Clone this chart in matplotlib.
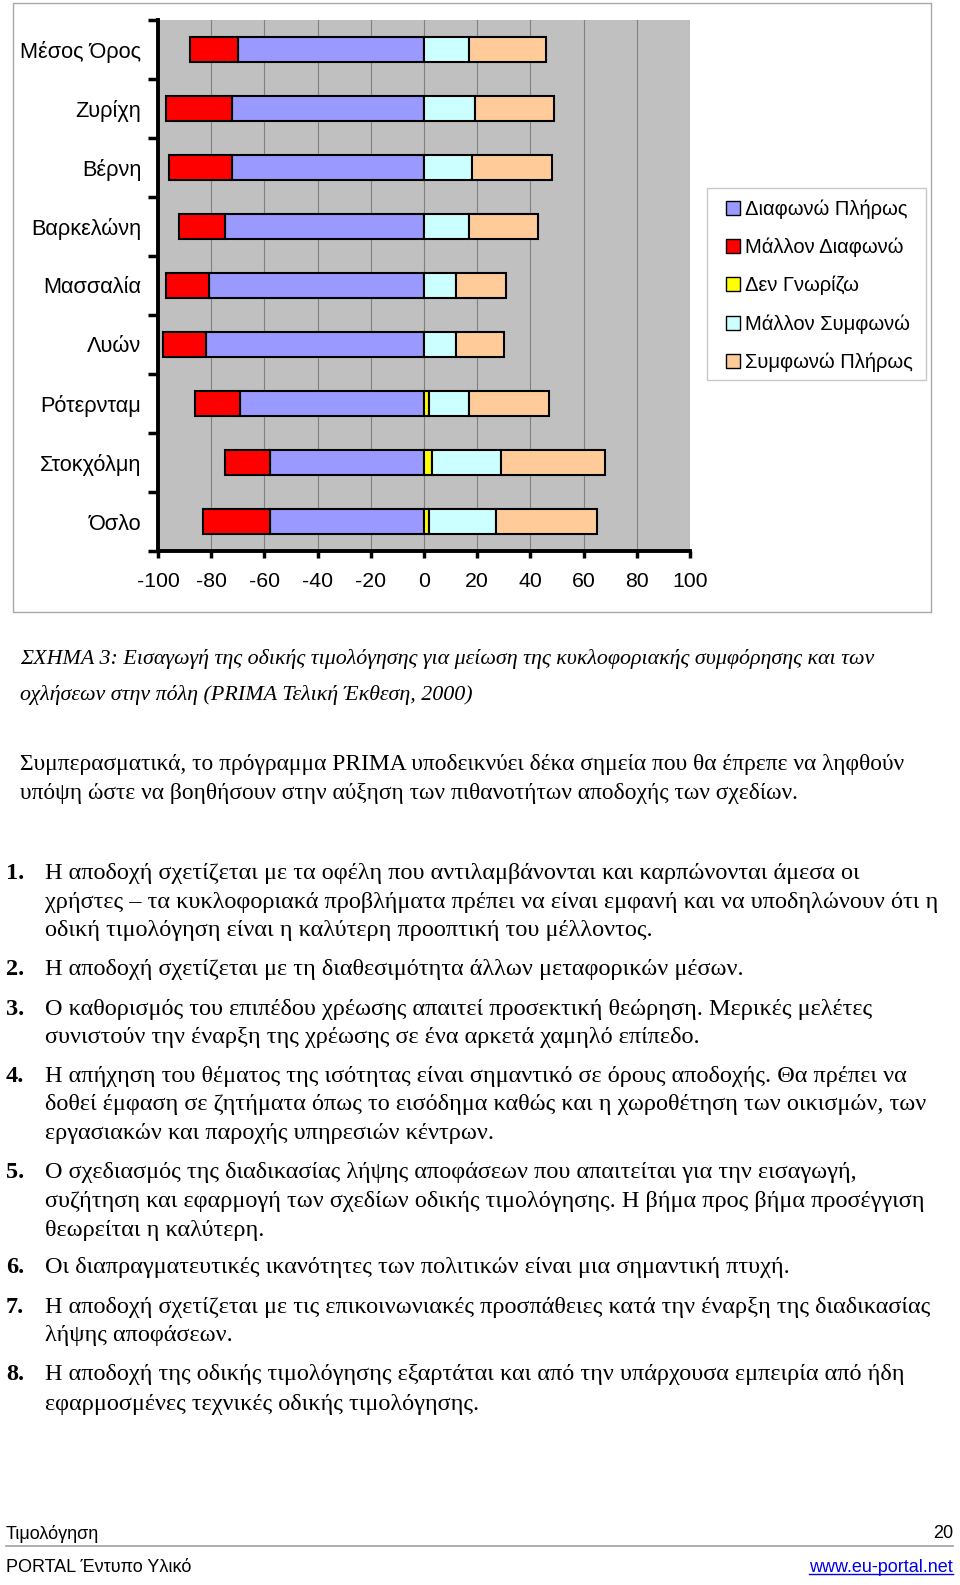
import numpy as np
import matplotlib.pyplot as plt
from matplotlib.patches import Patch, Rectangle
from matplotlib.lines import Line2D

# data (percent)
cities = ["Μέσος Όρος", "Ζυρίχη", "Βέρνη", "Βαρκελώνη", "Μασσαλία",
          "Λυών", "Ρότερνταμ", "Στοκχόλμη", "Όσλο"]
dis_full = np.array([70, 72, 72, 75, 81, 82, 69, 58, 58])
dis_some = np.array([18, 25, 24, 17, 16, 16, 17, 17, 25])
dont_know = np.array([0, 0, 0, 0, 0, 0, 2, 3, 2])
agr_some = np.array([17, 19, 18, 17, 12, 12, 15, 26, 25])
agr_full = np.array([29, 30, 30, 26, 19, 18, 30, 39, 38])

series_names = ["Διαφωνώ Πλήρως", "Μάλλον Διαφωνώ", "Δεν Γνωρίζω",
                "Μάλλον Συμφωνώ", "Συμφωνώ Πλήρως"]
colors = ["#9999FF", "#FF0000", "#FFFF00", "#CCFFFF", "#FFCC99"]
xticks = list(range(-100, 101, 20))

caption = ["ΣΧΗΜΑ 3: Εισαγωγή της οδικής τιμολόγησης για μείωση της κυκλοφοριακής συμφόρησης και των",
           "οχλήσεων στην πόλη (PRIMA Τελική Έκθεση, 2000)"]
intro = ["Συμπερασματικά, το πρόγραμμα PRIMA υποδεικνύει δέκα σημεία που θα έπρεπε να ληφθούν",
         "υπόψη ώστε να βοηθήσουν στην αύξηση των πιθανοτήτων αποδοχής των σχεδίων."]
items = [
    ["Η αποδοχή σχετίζεται με τα οφέλη που αντιλαμβάνονται και καρπώνονται άμεσα οι",
     "χρήστες – τα κυκλοφοριακά προβλήματα πρέπει να είναι εμφανή και να υποδηλώνουν ότι η",
     "οδική τιμολόγηση είναι η καλύτερη προοπτική του μέλλοντος."],
    ["Η αποδοχή σχετίζεται με τη διαθεσιμότητα άλλων μεταφορικών μέσων."],
    ["Ο καθορισμός του επιπέδου χρέωσης απαιτεί προσεκτική θεώρηση. Μερικές μελέτες",
     "συνιστούν την έναρξη της χρέωσης σε ένα αρκετά χαμηλό επίπεδο."],
    ["Η απήχηση του θέματος της ισότητας είναι σημαντικό σε όρους αποδοχής. Θα πρέπει να",
     "δοθεί έμφαση σε ζητήματα όπως το εισόδημα καθώς και η χωροθέτηση των οικισμών, των",
     "εργασιακών και παροχής υπηρεσιών κέντρων."],
    ["Ο σχεδιασμός της διαδικασίας λήψης αποφάσεων που απαιτείται για την εισαγωγή,",
     "συζήτηση και εφαρμογή των σχεδίων οδικής τιμολόγησης. Η βήμα προς βήμα προσέγγιση",
     "θεωρείται η καλύτερη."],
    ["Οι διαπραγματευτικές ικανότητες των πολιτικών είναι μια σημαντική πτυχή."],
    ["Η αποδοχή σχετίζεται με τις επικοινωνιακές προσπάθειες κατά την έναρξη της διαδικασίας",
     "λήψης αποφάσεων."],
    ["Η αποδοχή της οδικής τιμολόγησης εξαρτάται και από την υπάρχουσα εμπειρία από ήδη",
     "εφαρμοσμένες τεχνικές οδικής τιμολόγησης."],
]
item_y = [[873, 902, 930], [969], [1009, 1037], [1076, 1104, 1133],
          [1172, 1201, 1230], [1267], [1307, 1335], [1374, 1404]]

W, H = 960, 1585
fig = plt.figure(figsize=(W / 100, H / 100), dpi=100)


def fx(px):
    return px / W


def fy(py):
    return 1 - py / H


sans = "Liberation Sans"
serif = "Liberation Serif"

# outer chart frame
fig.add_artist(Rectangle((fx(13), fy(612)), fx(931 - 13), (612 - 3) / H,
                         transform=fig.transFigure, fill=False,
                         edgecolor="#A8A8A8", lw=1))

ax = fig.add_axes([fx(158), fy(551), fx(690 - 158), (551 - 20) / H])
ax.set_facecolor("#C0C0C0")
ypos = np.arange(len(cities))
h = 0.42
kw = dict(height=h, edgecolor="black", linewidth=1.5, zorder=3)
ax.barh(ypos, -dis_full, color=colors[0], **kw)
ax.barh(ypos, -dis_some, left=-dis_full, color=colors[1], **kw)
ax.barh(ypos, dont_know, color=colors[2], **kw)
ax.barh(ypos, agr_some, left=dont_know, color=colors[3], **kw)
ax.barh(ypos, agr_full, left=dont_know + agr_some, color=colors[4], **kw)

ax.set_xlim(-100, 100)
ax.set_ylim(len(cities) - 0.5, -0.5)
ax.set_xticks(xticks)
ax.set_xticklabels([str(t) for t in xticks], fontsize=15.3, family=sans)
ax.xaxis.grid(True, color="#808080", lw=0.8, zorder=0)
ax.set_axisbelow(True)
ax.set_yticks(ypos)
ax.set_yticklabels(cities, fontsize=15.7, family=sans)
ax.set_yticks(np.arange(len(cities) + 1) - 0.5, minor=True)
ax.tick_params(axis="y", which="major", length=0, pad=12)
ax.tick_params(axis="y", which="minor", length=7, width=2.5, direction="out")
ax.tick_params(axis="x", length=5, width=2.5, pad=10)
for s in ["top", "right"]:
    ax.spines[s].set_visible(False)
for s in ["left", "bottom"]:
    ax.spines[s].set_linewidth(2.8)

# legend with its own frame
fig.add_artist(Rectangle((fx(707), fy(380)), fx(926 - 707), (380 - 188) / H,
                         transform=fig.transFigure, facecolor="white",
                         edgecolor="#C8C8C8", lw=1))
handles = [Patch(facecolor=c, edgecolor="black", label=n)
           for c, n in zip(colors, series_names)]
leg = fig.legend(handles=handles, loc="upper left",
                 bbox_to_anchor=(fx(726), fy(199.5)), frameon=False,
                 prop={"family": sans, "size": 14.5},
                 handlelength=0.68, handleheight=0.68, handletextpad=0.25,
                 labelspacing=0.93, borderpad=0, borderaxespad=0)

# caption and body text (baseline placed from measured line centres)
def line_text(x, yc, s, size, **kw):
    off = 0.34 * size * 100 / 72 - 2.5
    fig.text(fx(x), fy(yc + off), s, family=serif, fontsize=size,
             va="baseline", ha="left", **kw)


for line, yy in zip(caption, [659, 695]):
    line_text(20, yy, line, 15.8, style="italic")
for line, yy in zip(intro, [765, 794]):
    line_text(20, yy, line, 16.9)
for i, (lines, ys) in enumerate(zip(items, item_y)):
    line_text(6, ys[0], f"{i + 1}.", 17.5, weight="bold")
    for line, yy in zip(lines, ys):
        line_text(45, yy, line, 17.5)

# footer
fig.text(fx(6), fy(1534), "Τιμολόγηση", family=sans, fontsize=13,
         va="center", ha="left")
fig.text(fx(953), fy(1534), "20", family=sans, fontsize=13,
         va="center", ha="right")
fig.add_artist(Line2D([fx(6), fx(953)], [fy(1546), fy(1546)],
                      transform=fig.transFigure, color="#A0A0A0", lw=1.2))
fig.text(fx(6), fy(1567), "PORTAL Έντυπο Υλικό", family=sans, fontsize=13,
         va="center", ha="left")
link = fig.text(fx(953), fy(1567), "www.eu-portal.net", family=sans,
                fontsize=13, va="center", ha="right", color="#0000EE")
fig.canvas.draw()
bb = link.get_window_extent().transformed(fig.transFigure.inverted())
fig.add_artist(Line2D([bb.x0, bb.x1], [bb.y0 + 0.0008, bb.y0 + 0.0008],
                      transform=fig.transFigure, color="#0000EE", lw=1))

fig.savefig("out.png", dpi=100)
